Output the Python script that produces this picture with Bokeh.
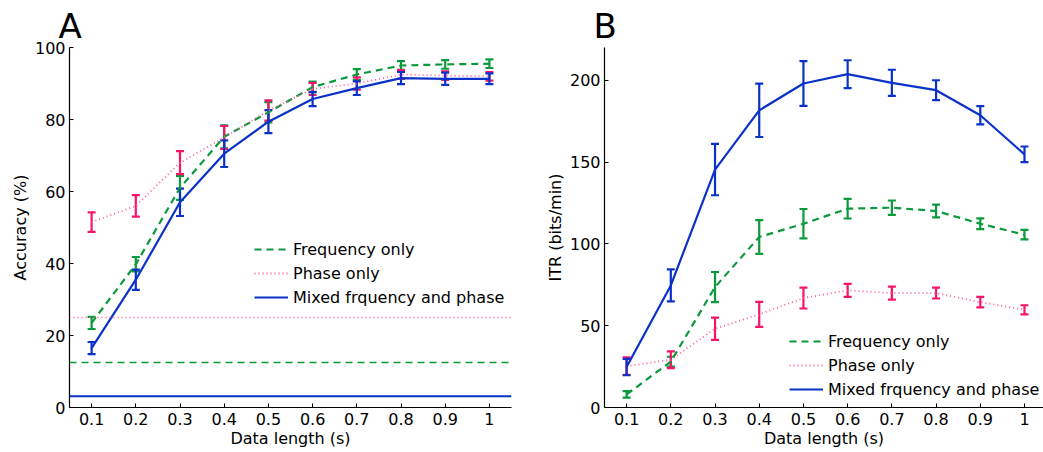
from bokeh.plotting import figure
from bokeh.layouts import row
from bokeh.models import Legend, LegendItem, Whisker, ColumnDataSource, Span
from bokeh.embed import file_html
from bokeh.resources import INLINE

# ---------------- data ----------------
data_length = [0.1, 0.2, 0.3, 0.4, 0.5, 0.6, 0.7, 0.8, 0.9, 1.0]
x_ticks = [0.1, 0.2, 0.3, 0.4, 0.5, 0.6, 0.7, 0.8, 0.9, 1.0]
x_tick_labels = ["0.1", "0.2", "0.3", "0.4", "0.5", "0.6", "0.7", "0.8", "0.9", "1"]

series_names = ["Frequency only", "Phase only", "Mixed frquency and phase"]

# Panel A: accuracy (%)
acc_freq = [23.5, 39.8, 61.0, 75.2, 82.0, 89.0, 92.5, 95.0, 95.3, 95.5]
acc_freq_err = [1.7, 2.0, 3.3, 3.2, 2.8, 1.5, 1.5, 1.2, 1.2, 1.2]
acc_phase = [51.5, 56.0, 68.0, 75.0, 82.5, 88.5, 90.0, 92.5, 92.2, 92.0]
acc_phase_err = [2.7, 3.0, 3.2, 3.2, 2.8, 1.7, 1.7, 1.2, 1.2, 1.2]
acc_mixed = [16.5, 35.5, 57.0, 70.5, 79.4, 85.7, 88.7, 91.5, 91.3, 91.3]
acc_mixed_err = [1.7, 2.8, 3.8, 3.7, 3.2, 2.0, 1.9, 1.7, 1.7, 1.5]
chance_levels = [12.5, 25.0, 3.125]  # freq, phase, mixed

# Panel B: ITR (bits/min)
itr_freq = [8.0, 28.0, 73.6, 104.2, 112.3, 121.5, 122.1, 120.1, 112.3, 105.6]
itr_freq_err = [2.0, 3.0, 9.2, 10.3, 9.0, 6.0, 4.4, 3.9, 3.3, 2.9]
itr_phase = [25.3, 29.2, 48.1, 56.9, 66.9, 71.6, 69.9, 69.9, 64.4, 59.7]
itr_phase_err = [5.3, 5.1, 6.8, 7.6, 6.4, 4.0, 4.0, 3.3, 3.2, 2.8]
itr_mixed = [24.7, 74.6, 145.4, 181.6, 198.0, 203.7, 198.4, 193.9, 178.6, 154.7]
itr_mixed_err = [5.0, 9.8, 15.7, 16.3, 13.7, 8.5, 8.0, 6.1, 5.6, 4.8]

# ---------------- style ----------------
GREEN = "#0a9a3c"
PINK_BAR = "#f5146a"
PINK_LINE = "#ff5c95"
BLUE = "#0a32c8"
FONT = "DejaVu Sans"

line_styles = [
    dict(color=GREEN, dash="7 5", width=2.2),
    dict(color=PINK_LINE, dash="1 3", width=1.8),
    dict(color=BLUE, dash="solid", width=2.2),
]
bar_colors = [GREEN, PINK_BAR, BLUE]


def make_panel(width, border_left, border_right, x_end, y_end, y_ticks, y_label,
               means, errs, letter, legend_xy, chance=None):
    p = figure(width=width, height=452, output_backend="svg", toolbar_location=None,
               x_range=(0.05, x_end), y_range=(0, y_end),
               min_border_left=border_left, min_border_right=border_right,
               min_border_top=47, min_border_bottom=45)
    p.outline_line_color = None
    p.grid.visible = False
    p.background_fill_color = "white"
    p.border_fill_color = "white"

    # panel letter as the figure title
    p.title.text = letter
    p.title.text_font = "DejaVu Sans"
    p.title.text_font_size = "34px"
    p.title.text_font_style = "normal"
    p.title.text_color = "black"
    p.title.align = "left"
    p.title.offset = -11
    p.title.standoff = 3

    for ax in (p.xaxis[0], p.yaxis[0]):
        ax.axis_line_color = "black"
        ax.axis_line_width = 1.2
        ax.major_tick_in = 4
        ax.major_tick_out = 0
        ax.minor_tick_line_color = None
        ax.major_label_text_font = FONT
        ax.major_label_text_font_size = "16px"
        ax.major_label_text_color = "black"
        ax.axis_label_text_font = FONT
        ax.axis_label_text_font_size = "16px"
        ax.axis_label_text_font_style = "normal"
        ax.axis_label_text_color = "black"

    p.xaxis.ticker = x_ticks
    p.xaxis.major_label_overrides = {t: l for t, l in zip(x_ticks, x_tick_labels)}
    p.xaxis.major_label_standoff = 5
    p.xaxis.axis_label = "Data length (s)"
    p.xaxis.axis_label_standoff = 1
    p.yaxis.ticker = y_ticks
    p.yaxis.major_label_standoff = 4
    p.yaxis.axis_label = y_label
    p.yaxis.axis_label_standoff = 2

    if chance is not None:
        for lvl, st in zip(chance, line_styles):
            p.add_layout(Span(location=lvl, dimension="width", line_color=st["color"],
                              line_dash=st["dash"], line_width=1.6 if st["dash"] != "solid" else 1.8))

    items = []
    for m, e, st, bc, name in zip(means, errs, line_styles, bar_colors, series_names):
        src = ColumnDataSource(dict(x=data_length, y=m,
                                    lo=[a - b for a, b in zip(m, e)],
                                    hi=[a + b for a, b in zip(m, e)]))
        r = p.line("x", "y", source=src, line_color=st["color"], line_dash=st["dash"],
                   line_width=st["width"])
        w = Whisker(base="x", lower="lo", upper="hi", source=src,
                    line_color=bc, line_width=2.2)
        w.upper_head.size = 8
        w.lower_head.size = 8
        w.upper_head.line_color = bc
        w.lower_head.line_color = bc
        w.upper_head.line_width = 2.2
        w.lower_head.line_width = 2.2
        p.add_layout(w)
        items.append(LegendItem(label=name, renderers=[r]))

    legend = Legend(items=items, location=legend_xy, padding=0, margin=0, spacing=4,
                    glyph_width=34, glyph_height=20, label_height=20, label_standoff=5,
                    label_text_font=FONT, label_text_font_size="16px",
                    label_text_color="black",
                    background_fill_alpha=0, border_line_color=None)
    p.add_layout(legend, "center")
    return p


pA = make_panel(520, 69, 9, 1.05, 100, [0, 20, 40, 60, 80, 100], "Accuracy (%)",
                [acc_freq, acc_phase, acc_mixed],
                [acc_freq_err, acc_phase_err, acc_mixed_err],
                "A", (185, 100), chance=chance_levels)
pB = make_panel(523, 84, 0, 1.043, 220, [0, 50, 100, 150, 200], "ITR (bits/min)",
                [itr_freq, itr_phase, itr_mixed],
                [itr_freq_err, itr_phase_err, itr_mixed_err],
                "B", (185, 8))

layout = row(pA, pB)
open("out.html", "w").write(file_html(layout, INLINE))
